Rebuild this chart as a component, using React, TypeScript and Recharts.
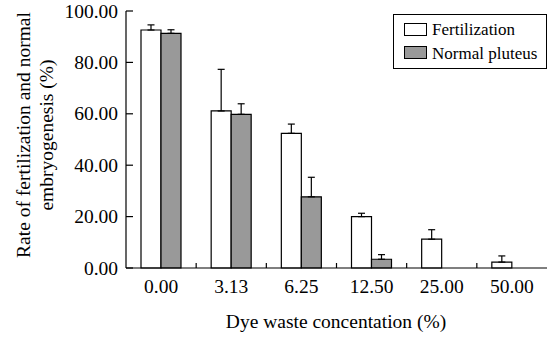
import { BarChart, Bar, XAxis, YAxis, ErrorBar } from 'recharts';

const concentrations = ['0.00', '3.13', '6.25', '12.50', '25.00', '50.00'];
const fertilization = [92.6, 61.1, 52.4, 20.0, 11.2, 2.3];
const fertilizationErr = [2.0, 16.2, 3.6, 1.3, 3.7, 2.4];
const pluteus = [91.3, 59.8, 27.7, 3.4, 0, 0];
const pluteusErr = [1.4, 4.1, 7.6, 1.8, 0, 0];
const yTicks = [0, 20, 40, 60, 80, 100];

const data = concentrations.map((c, i) => ({
  conc: c,
  fert: fertilization[i],
  fertErr: [0, fertilizationErr[i]],
  plut: pluteus[i],
  plutErr: [0, pluteusErr[i]],
}));

const FONT = 'Liberation Serif';
const txt = { fontFamily: FONT, fontSize: 19.5 };
const legendTxt = { fontFamily: FONT, fontSize: 17 };
const W = 547;
const H = 337;
const LEFT = 126;
const TOP = 11;
const BOTTOM = 69;
const BAND = (W - LEFT) / concentrations.length;

const YTick = (props: any) => {
  const { x, y, payload } = props;
  return (
    <g>
      <line x1={x + 8} x2={x + 15} y1={y} y2={y} stroke="#000" strokeWidth={1.2} />
      <text x={x} y={y} dy={6.5} textAnchor="end" style={txt} fill="#000">
        {Number(payload.value).toFixed(2)}
      </text>
    </g>
  );
};

const XTick = (props: any) => {
  const { x, y, index, payload } = props;
  const axisY = y - 10;
  return (
    <g>
      {index > 0 && (
        <line x1={x - BAND / 2} x2={x - BAND / 2} y1={axisY} y2={axisY - 5} stroke="#000" strokeWidth={1.2} />
      )}
      <text x={x} y={axisY + 25} textAnchor="middle" style={txt} fill="#000">
        {payload.value}
      </text>
    </g>
  );
};

const LegendBox = () => (
  <g>
    <rect x={393.5} y={14.5} width={153} height={54} fill="#fff" stroke="#000" strokeWidth={1} />
    <rect x={404.5} y={23.5} width={22} height={12} fill="#fff" stroke="#000" strokeWidth={1} />
    <text x={432} y={35} style={legendTxt} fill="#000">Fertilization</text>
    <rect x={404.5} y={46.5} width={22} height={12} fill="#999" stroke="#000" strokeWidth={1} />
    <text x={432} y={59} style={legendTxt} fill="#000">Normal pluteus</text>
  </g>
);

export default function App() {
  return (
    <div style={{ position: 'absolute', left: 0, top: 0, width: W, height: H, background: '#fff', fontFamily: FONT }}>
      <BarChart
        width={W}
        height={H}
        data={data}
        margin={{ top: TOP, right: 0, left: 0, bottom: 0 }}
        barGap={0}
        barSize={20}
        style={{ fontFamily: FONT }}
      >
        <XAxis
          dataKey="conc"
          height={BOTTOM}
          axisLine={{ stroke: '#000', strokeWidth: 1.2 }}
          tickLine={false}
          tickSize={0}
          tickMargin={10}
          tick={<XTick />}
          interval={0}
        />
        <YAxis
          width={LEFT}
          domain={[0, 100]}
          ticks={yTicks}
          axisLine={{ stroke: '#000', strokeWidth: 1.2 }}
          tickLine={false}
          tickSize={0}
          tickMargin={8}
          tick={<YTick />}
        />
        <Bar dataKey="fert" fill="#fff" stroke="#000" strokeWidth={1.2} isAnimationActive={false}>
          <ErrorBar dataKey="fertErr" width={3.5} stroke="#000" strokeWidth={1.2} direction="y" />
        </Bar>
        <Bar dataKey="plut" fill="#999" stroke="#000" strokeWidth={1.2} isAnimationActive={false}>
          <ErrorBar dataKey="plutErr" width={3.5} stroke="#000" strokeWidth={1.2} direction="y" />
        </Bar>
        <LegendBox />
        <text x={336} y={328} textAnchor="middle" style={txt} fill="#000">
          Dye waste concentation (%)
        </text>
        <text transform="translate(30,135) rotate(-90)" textAnchor="middle" style={txt} fill="#000">
          Rate of fertilization and normal
        </text>
        <text transform="translate(53,135) rotate(-90)" textAnchor="middle" style={txt} fill="#000">
          embryogenesis (%)
        </text>
      </BarChart>
    </div>
  );
}
